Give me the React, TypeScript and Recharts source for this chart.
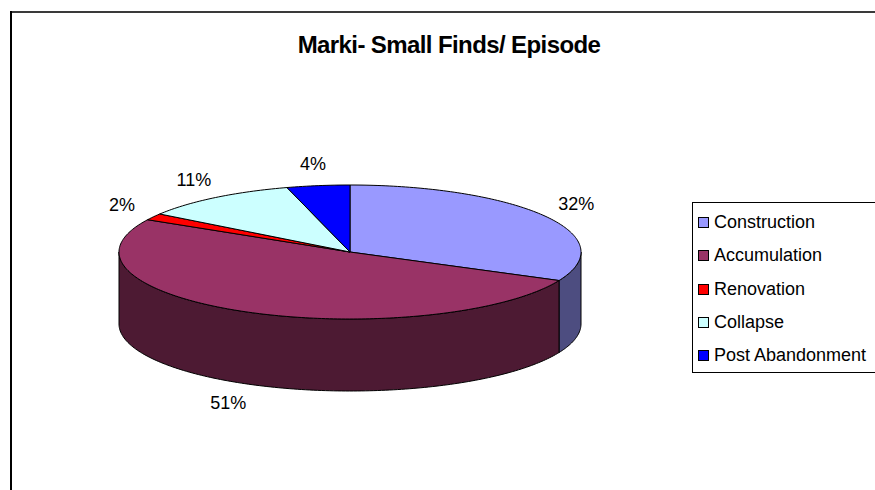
import { Legend, Pie, PieChart } from 'recharts'

// Marki - small finds per episode, Excel style 3D pie
const categories = ['Construction', 'Accumulation', 'Renovation', 'Collapse', 'Post Abandonment']
const shares = [32, 51, 1.6, 11, 4.4]
const colors = ['#9999FF', '#993366', '#FF0000', '#CCFFFF', '#0000FF']

const data = categories.map((name, i) => ({ name, value: shares[i], fill: colors[i] }))

const W = 875
const H = 490
const RX = 231
const RY = 67
const DEPTH = 72
const FONT = '"Liberation Sans", Arial, sans-serif'

function darken(hex: string, f = 0.5) {
  const n = parseInt(hex.slice(1), 16)
  const r = Math.round(((n >> 16) & 255) * f)
  const g = Math.round(((n >> 8) & 255) * f)
  const b = Math.round((n & 255) * f)
  return `rgb(${r},${g},${b})`
}

// points along the ellipse from angle a to angle b (degrees, recharts convention)
function arc(cx: number, cy: number, rx: number, ry: number, a: number, b: number, dy = 0) {
  const steps = Math.max(2, Math.ceil(Math.abs(b - a)))
  const pts: string[] = []
  for (let i = 0; i <= steps; i++) {
    const t = ((a + ((b - a) * i) / steps) * Math.PI) / 180
    pts.push(`${(cx + rx * Math.cos(t)).toFixed(2)},${(cy - ry * Math.sin(t) + dy).toFixed(2)}`)
  }
  return pts
}

function Slice3D(props: any) {
  const { cx, cy, outerRadius, startAngle, endAngle } = props
  const fill = props.fill || props.payload?.fill
  const rx = outerRadius
  const ry = (outerRadius * RY) / RX
  const lo = Math.min(startAngle, endAngle)
  const hi = Math.max(startAngle, endAngle)
  // front wall only where the rim faces the viewer
  const sides: [number, number][] = []
  for (let k = -2; k <= 1; k++) {
    const a = Math.max(lo, -180 + 360 * k)
    const b = Math.min(hi, 360 * k)
    if (b > a) sides.push([a, b])
  }
  const top = `M${cx},${cy} L${arc(cx, cy, rx, ry, startAngle, endAngle).join(' L')} Z`
  return (
    <g>
      {sides.map(([a, b], i) => {
        const upper = arc(cx, cy, rx, ry, a, b)
        const lower = arc(cx, cy, rx, ry, b, a, DEPTH)
        return (
          <path
            key={i}
            d={`M${upper.join(' L')} L${lower.join(' L')} Z`}
            fill={darken(fill)}
            stroke="#000"
            strokeWidth={1}
            strokeLinejoin="round"
          />
        )
      })}
      <path d={top} fill={fill} stroke="#000" strokeWidth={1} strokeLinejoin="round" />
    </g>
  )
}

function renderLabel(props: any) {
  const { cx, cy, midAngle, outerRadius, percent, index } = props
  const t = (midAngle * Math.PI) / 180
  const s = Math.sin(t)
  const x = cx + (outerRadius + 37) * Math.cos(t)
  const y = cy - ((outerRadius * RY) / RX + 22) * s + (s < 0 ? DEPTH : 0)
  return (
    <text
      key={`lbl-${index}`}
      x={x}
      y={y}
      textAnchor="middle"
      dominantBaseline="central"
      fontFamily={FONT}
      fontSize={18}
      fill="#000"
    >
      {`${Math.round(percent * 100)}%`}
    </text>
  )
}

// legend keeps the series order of the source chart
function LegendBox() {
  return (
    <div
      style={{
        position: 'relative',
        width: 200,
        height: 171,
        border: '1px solid #000',
        boxSizing: 'border-box',
        background: '#fff',
        fontFamily: FONT,
      }}
    >
      {categories.map((c, i) => (
        <div key={c} style={{ position: 'absolute', left: 0, top: 19 + 33.3 * i - 10, height: 20 }}>
          <span
            style={{
              position: 'absolute',
              left: 5,
              top: 5,
              width: 9,
              height: 9,
              background: colors[i],
              border: '1px solid #000',
            }}
          />
          <span
            style={{
              position: 'absolute',
              left: 21,
              top: 0,
              fontSize: 18,
              lineHeight: '20px',
              whiteSpace: 'nowrap',
              color: '#000',
            }}
          >
            {c}
          </span>
        </div>
      ))}
    </div>
  )
}

export default function App() {
  return (
    <div style={{ position: 'absolute', left: 0, top: 0, width: W, height: H, background: '#fff', overflow: 'hidden' }}>
      <svg width={W} height={H} style={{ position: 'absolute', left: 0, top: 0 }}>
        <line x1={10} y1={12} x2={W} y2={12} stroke="#3a3a3a" strokeWidth={2} />
        <line x1={11} y1={11} x2={11} y2={H} stroke="#000" strokeWidth={2} />
        <text x={449} y={53} textAnchor="middle" fontFamily={FONT} fontWeight="bold" fontSize={24} letterSpacing={-0.6} fill="#000">
          Marki- Small Finds/ Episode
        </text>
      </svg>
      <div style={{ position: 'absolute', left: 0, top: 0 }}>
        <PieChart width={W} height={H} margin={{ top: 0, right: 0, bottom: 0, left: 0 }}>
          <Pie
            data={data}
            dataKey="value"
            nameKey="name"
            cx={350}
            cy={252}
            outerRadius={RX}
            startAngle={90}
            endAngle={-270}
            isAnimationActive={false}
            shape={Slice3D}
            activeShape={Slice3D}
            inactiveShape={Slice3D}
            label={renderLabel}
            labelLine={false}
          />
          <Legend
            layout="vertical"
            verticalAlign="top"
            align="right"
            content={LegendBox}
            wrapperStyle={{ left: 692, top: 202, width: 200, height: 171, right: 'auto' }}
          />
        </PieChart>
      </div>
    </div>
  )
}
